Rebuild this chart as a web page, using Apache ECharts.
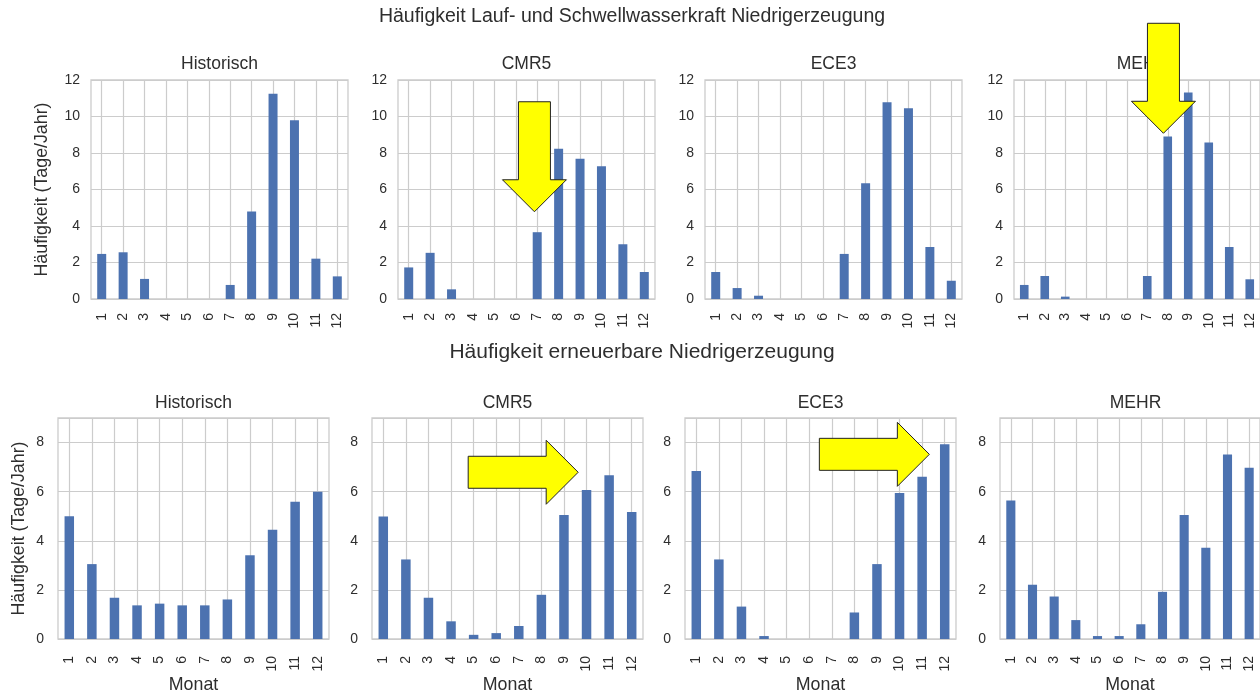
<!DOCTYPE html>
<html>
<head>
<meta charset="utf-8">
<script src="https://cdn.jsdelivr.net/npm/echarts@6/dist/echarts.min.js"></script>
<style>
  html, body { margin: 0; padding: 0; background: #ffffff; }
  #main { width: 1260px; height: 695px; }
</style>
</head>
<body>
<div id="main"></div>
<script>
// Monthly categories and panel names
const months = ['1', '2', '3', '4', '5', '6', '7', '8', '9', '10', '11', '12'];
const panelNames = ['Historisch', 'CMR5', 'ECE3', 'MEHR'];
const rowTitles = [
  'Häufigkeit Lauf- und Schwellwasserkraft Niedrigerzeugung',
  'Häufigkeit erneuerbare Niedrigerzeugung'
];
const yAxisTitle = 'Häufigkeit (Tage/Jahr)';
const xAxisTitle = 'Monat';

// Value axis ranges (Tage/Jahr)
const topAxisMax = 12;
const bottomAxisMax = 9;
const axisStep = 2;

// Laufwasser- und Schwellwasserkraft: Tage mit Niedrigerzeugung je Monat
const hydroHist = [2.47, 2.56, 1.10, 0, 0, 0, 0.77, 4.80, 11.25, 9.79, 2.21, 1.24];
const hydroCMR5 = [1.73, 2.53, 0.53, 0, 0, 0, 3.66, 8.23, 7.69, 7.27, 3.00, 1.48];
const hydroECE3 = [1.48, 0.60, 0.18, 0, 0, 0, 2.47, 6.34, 10.78, 10.45, 2.85, 1.00];
const hydroMEHR = [0.77, 1.26, 0.13, 0, 0, 0, 1.26, 8.91, 11.32, 8.58, 2.85, 1.08];

// Erneuerbare gesamt: Tage mit Niedrigerzeugung je Monat
const renewHist = [5.00, 3.05, 1.68, 1.37, 1.44, 1.37, 1.37, 1.61, 3.41, 4.45, 5.59, 6.00];
const renewCMR5 = [4.99, 3.24, 1.68, 0.72, 0.17, 0.24, 0.53, 1.80, 5.05, 6.07, 6.67, 5.17];
const renewECE3 = [6.84, 3.24, 1.32, 0.12, 0, 0, 0, 1.08, 3.05, 5.95, 6.61, 7.93];
const renewMEHR = [5.64, 2.21, 1.73, 0.77, 0.12, 0.12, 0.60, 1.92, 5.05, 3.72, 7.51, 6.97];

// Highlight arrows: panel index, month position (0-based, fractional), value at arrow tip
const arrowPanels = [1, 3, 5, 6];
const arrowMonthPos = [5.87, 6.79, 8.63, 10.32];
const arrowTipValue = [4.78, 9.08, 6.79, 7.52];
const arrowDirection = ['down', 'down', 'right', 'right'];

const rows = [
  [hydroHist, hydroCMR5, hydroECE3, hydroMEHR],
  [renewHist, renewCMR5, renewECE3, renewMEHR]
];

// Layout of the 2 x 4 panel grid (pixels)
const layout = [
  { lefts: [91, 398, 705, 1014], top: 80, width: 257, height: 219, max: topAxisMax,
    titleTop: 55, yNameGap: 40, xLabelMargin: 14, yLabelMargin: 11 },
  { lefts: [58, 372, 685, 1000], top: 418, width: 271, height: 225, max: bottomAxisMax,
    titleTop: 394, yNameGap: 30, xLabelMargin: 17, yLabelMargin: 14 }
];

const FONT = '"Liberation Sans", Arial, sans-serif';
const TEXT = '#2e2e2e';
const GRIDC = '#cccccc';
const BAR = '#4c72b0';

const grids = [], xAxes = [], yAxes = [], series = [], titles = [];

titles.push({ text: rowTitles[0], left: 632, top: 7, textAlign: 'center', padding: 0,
  textStyle: { fontFamily: FONT, fontSize: 19.5, fontWeight: 'normal', color: TEXT } });
titles.push({ text: rowTitles[1], left: 642, top: 342, textAlign: 'center', padding: 0,
  textStyle: { fontFamily: FONT, fontSize: 21, fontWeight: 'normal', color: TEXT } });

rows.forEach((rowData, r) => {
  const L = layout[r];
  rowData.forEach((values, c) => {
    const idx = grids.length;
    grids.push({
      left: L.lefts[c], top: L.top, width: L.width, height: L.height,
      show: true, borderColor: GRIDC, borderWidth: 1.3, backgroundColor: '#ffffff'
    });
    titles.push({
      text: panelNames[c], left: L.lefts[c] + L.width / 2, top: L.titleTop,
      textAlign: 'center', padding: 0,
      textStyle: { fontFamily: FONT, fontSize: 17.5, fontWeight: 'normal', color: TEXT }
    });
    xAxes.push({
      type: 'category', gridIndex: idx, data: months,
      boundaryGap: true,
      axisLine: { show: false },
      axisTick: { show: false, alignWithLabel: true },
      splitLine: { show: true, alignWithLabel: true, lineStyle: { color: GRIDC, width: 1.2 } },
      axisLabel: { rotate: 90, interval: 0, margin: L.xLabelMargin, fontFamily: FONT, fontSize: 14, color: TEXT },
      name: r === 1 ? xAxisTitle : '',
      nameLocation: 'middle', nameGap: 37,
      nameTextStyle: { fontFamily: FONT, fontSize: 17.8, color: TEXT }
    });
    yAxes.push({
      type: 'value', gridIndex: idx, min: 0, max: L.max, interval: axisStep,
      axisLine: { show: false },
      axisTick: { show: false },
      splitLine: { show: true, lineStyle: { color: GRIDC, width: 1.2 } },
      axisLabel: { margin: L.yLabelMargin, fontFamily: FONT, fontSize: 14, color: TEXT,
        showMaxLabel: r === 0 },
      name: c === 0 ? yAxisTitle : '',
      nameLocation: 'middle', nameGap: L.yNameGap, nameRotate: 90,
      nameTextStyle: { fontFamily: FONT, fontSize: 17.8, color: TEXT }
    });
    series.push({
      type: 'bar', xAxisIndex: idx, yAxisIndex: idx, data: values,
      barWidth: '42%', itemStyle: { color: BAR }, silent: true, animation: false
    });
  });
});

const chart = echarts.init(document.getElementById('main'), null, { renderer: 'canvas' });
chart.setOption({
  backgroundColor: '#ffffff',
  animation: false,
  title: titles,
  grid: grids,
  xAxis: xAxes,
  yAxis: yAxes,
  series: series
});

// Arrow outline relative to its tip (pixels); right-pointing variant is the transpose
function arrowPoints(dir) {
  const len = 110, shaft = 16, head = 32, headLen = 32;
  const down = [[-shaft, -len], [shaft, -len], [shaft, -headLen], [head, -headLen],
                [0, 0], [-head, -headLen], [-shaft, -headLen]];
  return dir === 'down' ? down : down.map(([x, y]) => [y, x]);
}

// Pixel position of a fractional month position and value inside a panel
function panelPixel(g, pos, value) {
  const i0 = Math.floor(pos), i1 = Math.min(i0 + 1, months.length - 1);
  const p0 = chart.convertToPixel({ gridIndex: g }, [i0, value]);
  const p1 = chart.convertToPixel({ gridIndex: g }, [i1, value]);
  const t = i1 === i0 ? 0 : pos - i0;
  return [p0[0] + (p1[0] - p0[0]) * t, p0[1]];
}

const arrows = arrowPanels.map((g, k) => {
  const tip = panelPixel(g, arrowMonthPos[k], arrowTipValue[k]);
  return {
    type: 'polygon', z: 100,
    x: tip[0], y: tip[1],
    shape: { points: arrowPoints(arrowDirection[k]) },
    style: { fill: '#ffff00', stroke: '#222222', lineWidth: 1 }
  };
});

chart.setOption({ graphic: arrows });
</script>
</body>
</html>
